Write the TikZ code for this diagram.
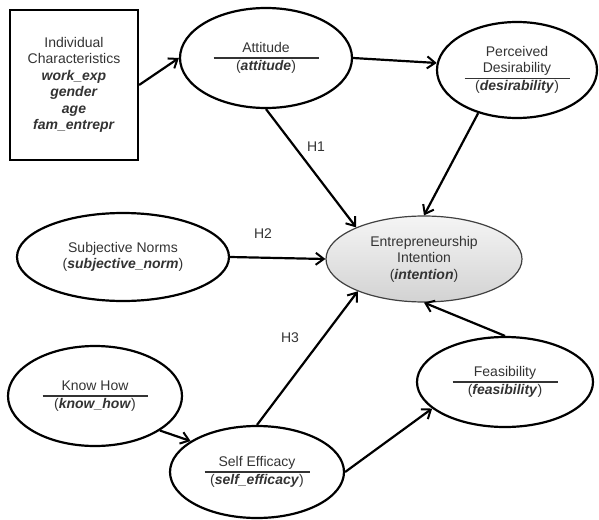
\documentclass[tikz,border=0pt]{standalone}
\usepackage{fontspec}
\setmainfont{Liberation Sans}
\usepackage{array}
\usepackage{tikz}
\usetikzlibrary{shapes,arrows.meta,positioning}

\setlength{\arrayrulewidth}{1.2pt}
\newcommand{\vname}[1]{\textbf{\textit{#1}}}
\newcommand{\latent}[2]{\begin{tabular}{@{}>{\centering\arraybackslash}p{105pt}@{}}#1\\\hline(\vname{#2})\end{tabular}}

\begin{document}
\begin{tikzpicture}[x=1pt,y=-1pt,
	every node/.style={font=\fontsize{14}{16.5}\selectfont, text=black!80},
	latent/.style={ellipse, draw=black, line width=2.2pt, inner sep=0pt},
	link/.style={-{Straight Barb[length=8pt,width=12pt,line width=2pt]}, line width=2.2pt},
	]
	\useasboundingbox (0,0) rectangle (599,519);
	
	% Characteristics box
	\node[draw, line width=2.2pt, minimum width=128pt, minimum height=150pt, align=center] (indiv) at (74,85)
	{Individual\\Characteristics\\\vname{work\_exp}\\\vname{gender}\\\vname{age}\\\vname{fam\_entrepr}};
	
	% Latent constructs
	\node[latent, minimum width=172pt, minimum height=100pt] (att) at (266,58) {\latent{Attitude}{attitude}};
	\node[latent, minimum width=160pt, minimum height=96pt] (des) at (517,70) {\latent{Perceived\\Desirability}{desirability}};
	\node[latent, minimum width=212pt, minimum height=88pt, align=center] (norm) at (123,257) {Subjective Norms\\(\vname{subjective\_norm})};
	\node[latent, minimum width=174pt, minimum height=100pt] (know) at (95,396) {\latent{Know How}{know\_how}};
	\node[latent, minimum width=174pt, minimum height=92pt] (eff) at (257,472) {\latent{Self Efficacy}{self\_efficacy}};
	\node[latent, minimum width=176pt, minimum height=90pt] (feas) at (505,382) {\latent{Feasibility}{feasibility}};
	
	% Outcome
	\node[latent, draw=black!75, line width=1.2pt, top color=gray!8, bottom color=gray!35, minimum width=196pt, minimum height=86pt, align=center] (int) at (424,259)
	{Entrepreneurship\\Intention\\(\vname{intention})};
	
	% Paths
	\draw[link] (indiv.east) -- (att.west);
	\draw[link] (att.east) -- (des.175);
	\draw[link] (att.south) -- (int.155);
	\draw[link] (des.228) -- (int.north);
	\draw[link] (norm.east) -- (int.west);
	\draw[link] (eff.north) -- (int.206);
	\draw[link] (feas.north) -- (int.south);
	\draw[link] (know.332) -- (eff.155);
	\draw[link] (eff.east) -- (feas.200);
	
	% Hypotheses
	\node (h1) at (316,147) {H1};
	\node (h2) at (263,234) {H2};
	\node (h3) at (290,338) {H3};
	
\end{tikzpicture}
\end{document}
